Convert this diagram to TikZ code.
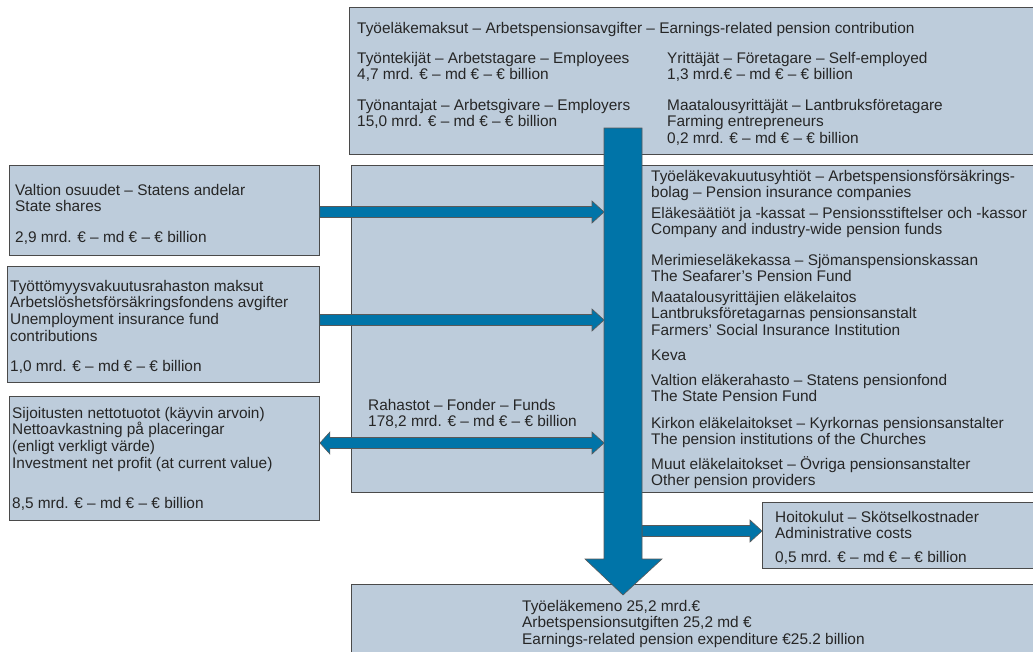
\documentclass[tikz,border=0pt]{standalone}
\usepackage{fontspec}
\setmainfont{Liberation Sans}
\usepackage{tikz}
\usetikzlibrary{calc,positioning}
\definecolor{pblue}{HTML}{0074A8}
\definecolor{pfill}{HTML}{BDCCDB}
\definecolor{pline}{HTML}{4A4A4A}
\tikzset{
  pbox/.style={draw=pline, fill=pfill, line width=0.9pt, inner sep=0pt,
               anchor=north west},
  ptxt/.style={anchor=north west, inner sep=0pt, align=left, text=black!85,
               font=\fontsize{15.4}{16.6}\selectfont,
               execute at begin node=\strut},
  pflow/.style={fill=pblue, draw=black!65, line width=0.6pt},
  pright/.style={to path={let \p1=(\tikztostart), \p2=(\tikztotarget) in
     (\x1,\y1+5.5pt) -- (\x2-12pt,\y1+5.5pt) -- (\x2-12pt,\y1+11pt) -- (\x2,\y1)
     -- (\x2-12pt,\y1-11pt) -- (\x2-12pt,\y1-5.5pt) -- (\x1,\y1-5.5pt) -- cycle}},
  pboth/.style={to path={let \p1=(\tikztostart), \p2=(\tikztotarget) in
     (\x1,\y1) -- (\x1+10pt,\y1+11pt) -- (\x1+10pt,\y1+5.5pt)
     -- (\x2-12pt,\y1+5.5pt) -- (\x2-12pt,\y1+11pt) -- (\x2,\y1)
     -- (\x2-12pt,\y1-11pt) -- (\x2-12pt,\y1-5.5pt)
     -- (\x1+10pt,\y1-5.5pt) -- (\x1+10pt,\y1-11pt) -- cycle}},
}

\begin{document}
\begin{tikzpicture}[x=1pt,y=-1pt]
  \useasboundingbox (0,0) rectangle (1033,651);

  % laatikot
  \node[pbox, minimum width=700pt, minimum height=147pt] (contrib) at (349,7) {};
  \node[pbox, minimum width=700pt, minimum height=327pt] (insts)   at (351,165) {};
  \node[pbox, minimum width=310pt, minimum height=90pt]  (state)   at (9,165) {};
  \node[pbox, minimum width=312pt, minimum height=116pt] (unemp)   at (7,266) {};
  \node[pbox, minimum width=310pt, minimum height=124pt] (invest)  at (9,396) {};
  \node[pbox, minimum width=280pt, minimum height=66pt]  (admin)   at (762,502) {};
  \node[pbox, minimum width=700pt, minimum height=80pt]  (expend)  at (351,584) {};

  % virran pisteet
  \coordinate (bartop) at (623,128);
  \coordinate (bartip) at (623,595);
  \coordinate (inA) at (604,212);
  \coordinate (inB) at (604,320);
  \coordinate (inC) at (604,443);
  \coordinate (outA) at (642,531);

  \draw[pflow] (state.east |- inA) to[pright] (inA);
  \draw[pflow] (unemp.east |- inB) to[pright] (inB);
  \draw[pflow] (invest.east |- inC) to[pboth] (inC);
  \draw[pflow] (outA) to[pright] (admin.west |- outA);

  % pääputki
  \draw[pflow] let \p1=(bartop), \p2=(bartip) in
    (\x1-19pt,\y1) -- (\x1+19pt,\y1) -- (\x1+19pt,\y2+36pt) -- (\x1+39pt,\y2+36pt)
    -- (\x2,\y2) -- (\x1-38pt,\y2+36pt) -- (\x1-19pt,\y2+36pt) -- cycle;

  % tekstit
  \node[ptxt] (t0) at (357,22) {Työeläkemaksut – Arbetspensionsavgifter – Earnings-related pension contribution};
  \node[ptxt] (t1) at (357,52) {Työntekijät – Arbetstagare – Employees\\4,7 mrd. € – md € – € billion};
  \node[ptxt] (t2) at (357,99) {Työnantajat – Arbetsgivare – Employers\\15,0 mrd. € – md € – € billion};
  \node[ptxt] (t3) at (667,52) {Yrittäjät – Företagare – Self-employed\\1,3 mrd.€ – md € – € billion};
  \node[ptxt] (t4) at (667,99) {Maatalousyrittäjät – Lantbruksföretagare\\Farming entrepreneurs\\0,2 mrd. € – md € – € billion};

  \node[ptxt] (m1) at (651,170) {Työeläkevakuutusyhtiöt – Arbetspensionsförsäkrings-\\bolag – Pension insurance companies};
  \node[ptxt] (m2) at (651,207) {Eläkesäätiöt ja -kassat – Pensionsstiftelser och -kassor\\Company and industry-wide pension funds};
  \node[ptxt] (m3) at (651,254) {Merimieseläkekassa – Sjömanspensionskassan\\The Seafarer's Pension Fund};
  \node[ptxt] (m4) at (651,291) {Maatalousyrittäjien eläkelaitos\\Lantbruksföretagarnas pensionsanstalt\\Farmers' Social Insurance Institution};
  \node[ptxt] (m5) at (651,349) {Keva};
  \node[ptxt] (m6) at (651,374) {Valtion eläkerahasto – Statens pensionfond\\The State Pension Fund};
  \node[ptxt] (m7) at (651,417) {Kirkon eläkelaitokset – Kyrkornas pensionsanstalter\\The pension institutions of the Churches};
  \node[ptxt] (m8) at (651,456) {Muut eläkelaitokset – Övriga pensionsanstalter\\Other pension providers};
  \node[ptxt] (funds) at (368,399) {Rahastot – Fonder – Funds\\178,2 mrd. € – md € – € billion};

  \node[ptxt] (l1) at (15,184) {Valtion osuudet – Statens andelar\\State shares\\[14pt]2,9 mrd. € – md € – € billion};
  \node[ptxt] (l2) at (10,280) {Työttömyysvakuutusrahaston maksut\\Arbetslöshetsförsäkringsfondens avgifter\\Unemployment insurance fund\\contributions\\[13.5pt]1,0 mrd. € – md € – € billion};
  \node[ptxt] (l3) at (12,407) {Sijoitusten nettotuotot (käyvin arvoin)\\Nettoavkastning på placeringar\\(enligt verkligt värde)\\Investment net profit (at current value)\\[23.5pt]8,5 mrd. € – md € – € billion};

  \node[ptxt] (a1) at (775,511) {Hoitokulut – Skötselkostnader\\Administrative costs\\[6.5pt]0,5 mrd. € – md € – € billion};
  \node[ptxt] (b1) at (522,600) {Työeläkemeno 25,2 mrd.€\\Arbetspensionsutgiften 25,2 md €\\Earnings-related pension expenditure €25.2 billion};
\end{tikzpicture}
\end{document}
